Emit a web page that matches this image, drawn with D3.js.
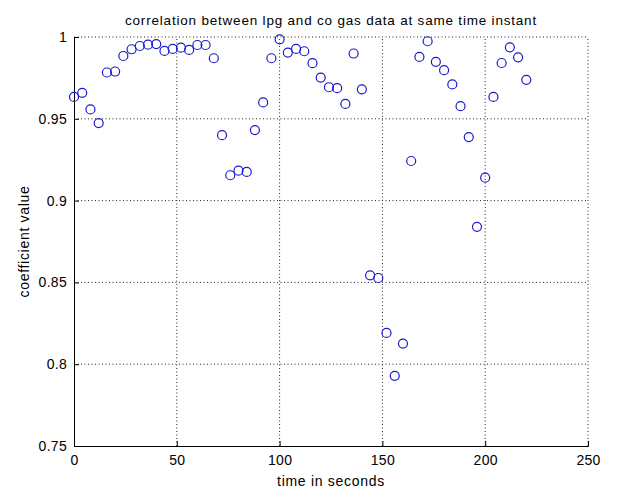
<!DOCTYPE html>
<html>
<head>
<meta charset="utf-8">
<script src="https://cdn.jsdelivr.net/npm/d3@7"></script>
<style>
  body { margin: 0; background: #fff; }
  text { font-family: "Liberation Sans", Arial, sans-serif; fill: #000; }
</style>
</head>
<body>
<script>
// time instants (s) and correlation coefficient between lpg and co readings
const timeSec = d3.range(0, 224, 4);
const coeffValues = [
  0.9634, 0.9659, 0.9557, 0.9474, 0.9783, 0.9789, 0.9884, 0.9925,
  0.9945, 0.9953, 0.9957, 0.9915, 0.9927, 0.9935, 0.9921, 0.9951,
  0.9951, 0.9870, 0.9400, 0.9155, 0.9183, 0.9175, 0.9431, 0.9600,
  0.9870, 0.9986, 0.9905, 0.9927, 0.9913, 0.9840, 0.9752, 0.9693,
  0.9687, 0.9591, 0.9899, 0.9680, 0.8543, 0.8527, 0.8191, 0.7929,
  0.8126, 0.9242, 0.9878, 0.9974, 0.9848, 0.9797, 0.9710, 0.9577,
  0.9388, 0.8840, 0.9140, 0.9634, 0.9841, 0.9937, 0.9876, 0.9738
];
const xTicks = [0, 50, 100, 150, 200, 250];
const yTicks = [0.75, 0.8, 0.85, 0.9, 0.95, 1];

const width = 617, height = 492;
const margin = { top: 37, right: 29, bottom: 46, left: 74 };

const svg = d3.select("body").append("svg")
    .attr("width", width)
    .attr("height", height);

const x = d3.scaleLinear().domain([0, 250]).range([margin.left, width - margin.right]);
const y = d3.scaleLinear().domain([0.75, 1]).range([height - margin.bottom, margin.top]);

// dotted grid
svg.append("g")
    .selectAll("line")
    .data(xTicks.slice(1))
    .join("line")
    .attr("x1", d => x(d)).attr("x2", d => x(d))
    .attr("y1", y(0.75)).attr("y2", y(1))
    .attr("stroke", "#222")
    .attr("stroke-dasharray", "1,2.5");

svg.append("g")
    .selectAll("line")
    .data(yTicks.slice(1))
    .join("line")
    .attr("x1", x(0)).attr("x2", x(250))
    .attr("y1", d => y(d)).attr("y2", d => y(d))
    .attr("stroke", "#222")
    .attr("stroke-dasharray", "1,2.5");

// axes with inward ticks
const xAxis = svg.append("g")
    .attr("transform", `translate(0,${y(0.75)})`)
    .call(d3.axisBottom(x).tickValues(xTicks).tickSize(-5).tickPadding(9).tickFormat(d3.format("d")));

const yAxis = svg.append("g")
    .attr("transform", `translate(${x(0)},0)`)
    .call(d3.axisLeft(y).tickValues(yTicks).tickSize(-5).tickPadding(7).tickFormat(d => String(d)));

[xAxis, yAxis].forEach(g => {
  g.select(".domain").attr("stroke", "#000");
  g.selectAll(".tick line").attr("stroke", "#000");
  g.selectAll(".tick text").attr("font-size", 14).attr("font-family", null)
    .attr("letter-spacing", 0.3);
});

// markers
svg.append("g")
    .selectAll("circle")
    .data(timeSec)
    .join("circle")
    .attr("cx", d => x(d))
    .attr("cy", (d, i) => y(coeffValues[i]))
    .attr("r", 4.5)
    .attr("fill", "none")
    .attr("stroke", "#1a1acc")
    .attr("stroke-width", 1.2);

svg.append("text")
    .attr("x", (x(0) + x(250)) / 2)
    .attr("y", 25)
    .attr("text-anchor", "middle")
    .attr("font-size", 13.5)
    .attr("letter-spacing", 0.8)
    .text("correlation between lpg and co gas data at same time instant");

svg.append("text")
    .attr("x", (x(0) + x(250)) / 2)
    .attr("y", 486)
    .attr("text-anchor", "middle")
    .attr("font-size", 14)
    .attr("letter-spacing", 0.7)
    .text("time in seconds");

svg.append("text")
    .attr("transform", `translate(29,${(y(0.75) + y(1)) / 2}) rotate(-90)`)
    .attr("text-anchor", "middle")
    .attr("font-size", 14)
    .attr("letter-spacing", 0.7)
    .text("coefficient value");
</script>
</body>
</html>
